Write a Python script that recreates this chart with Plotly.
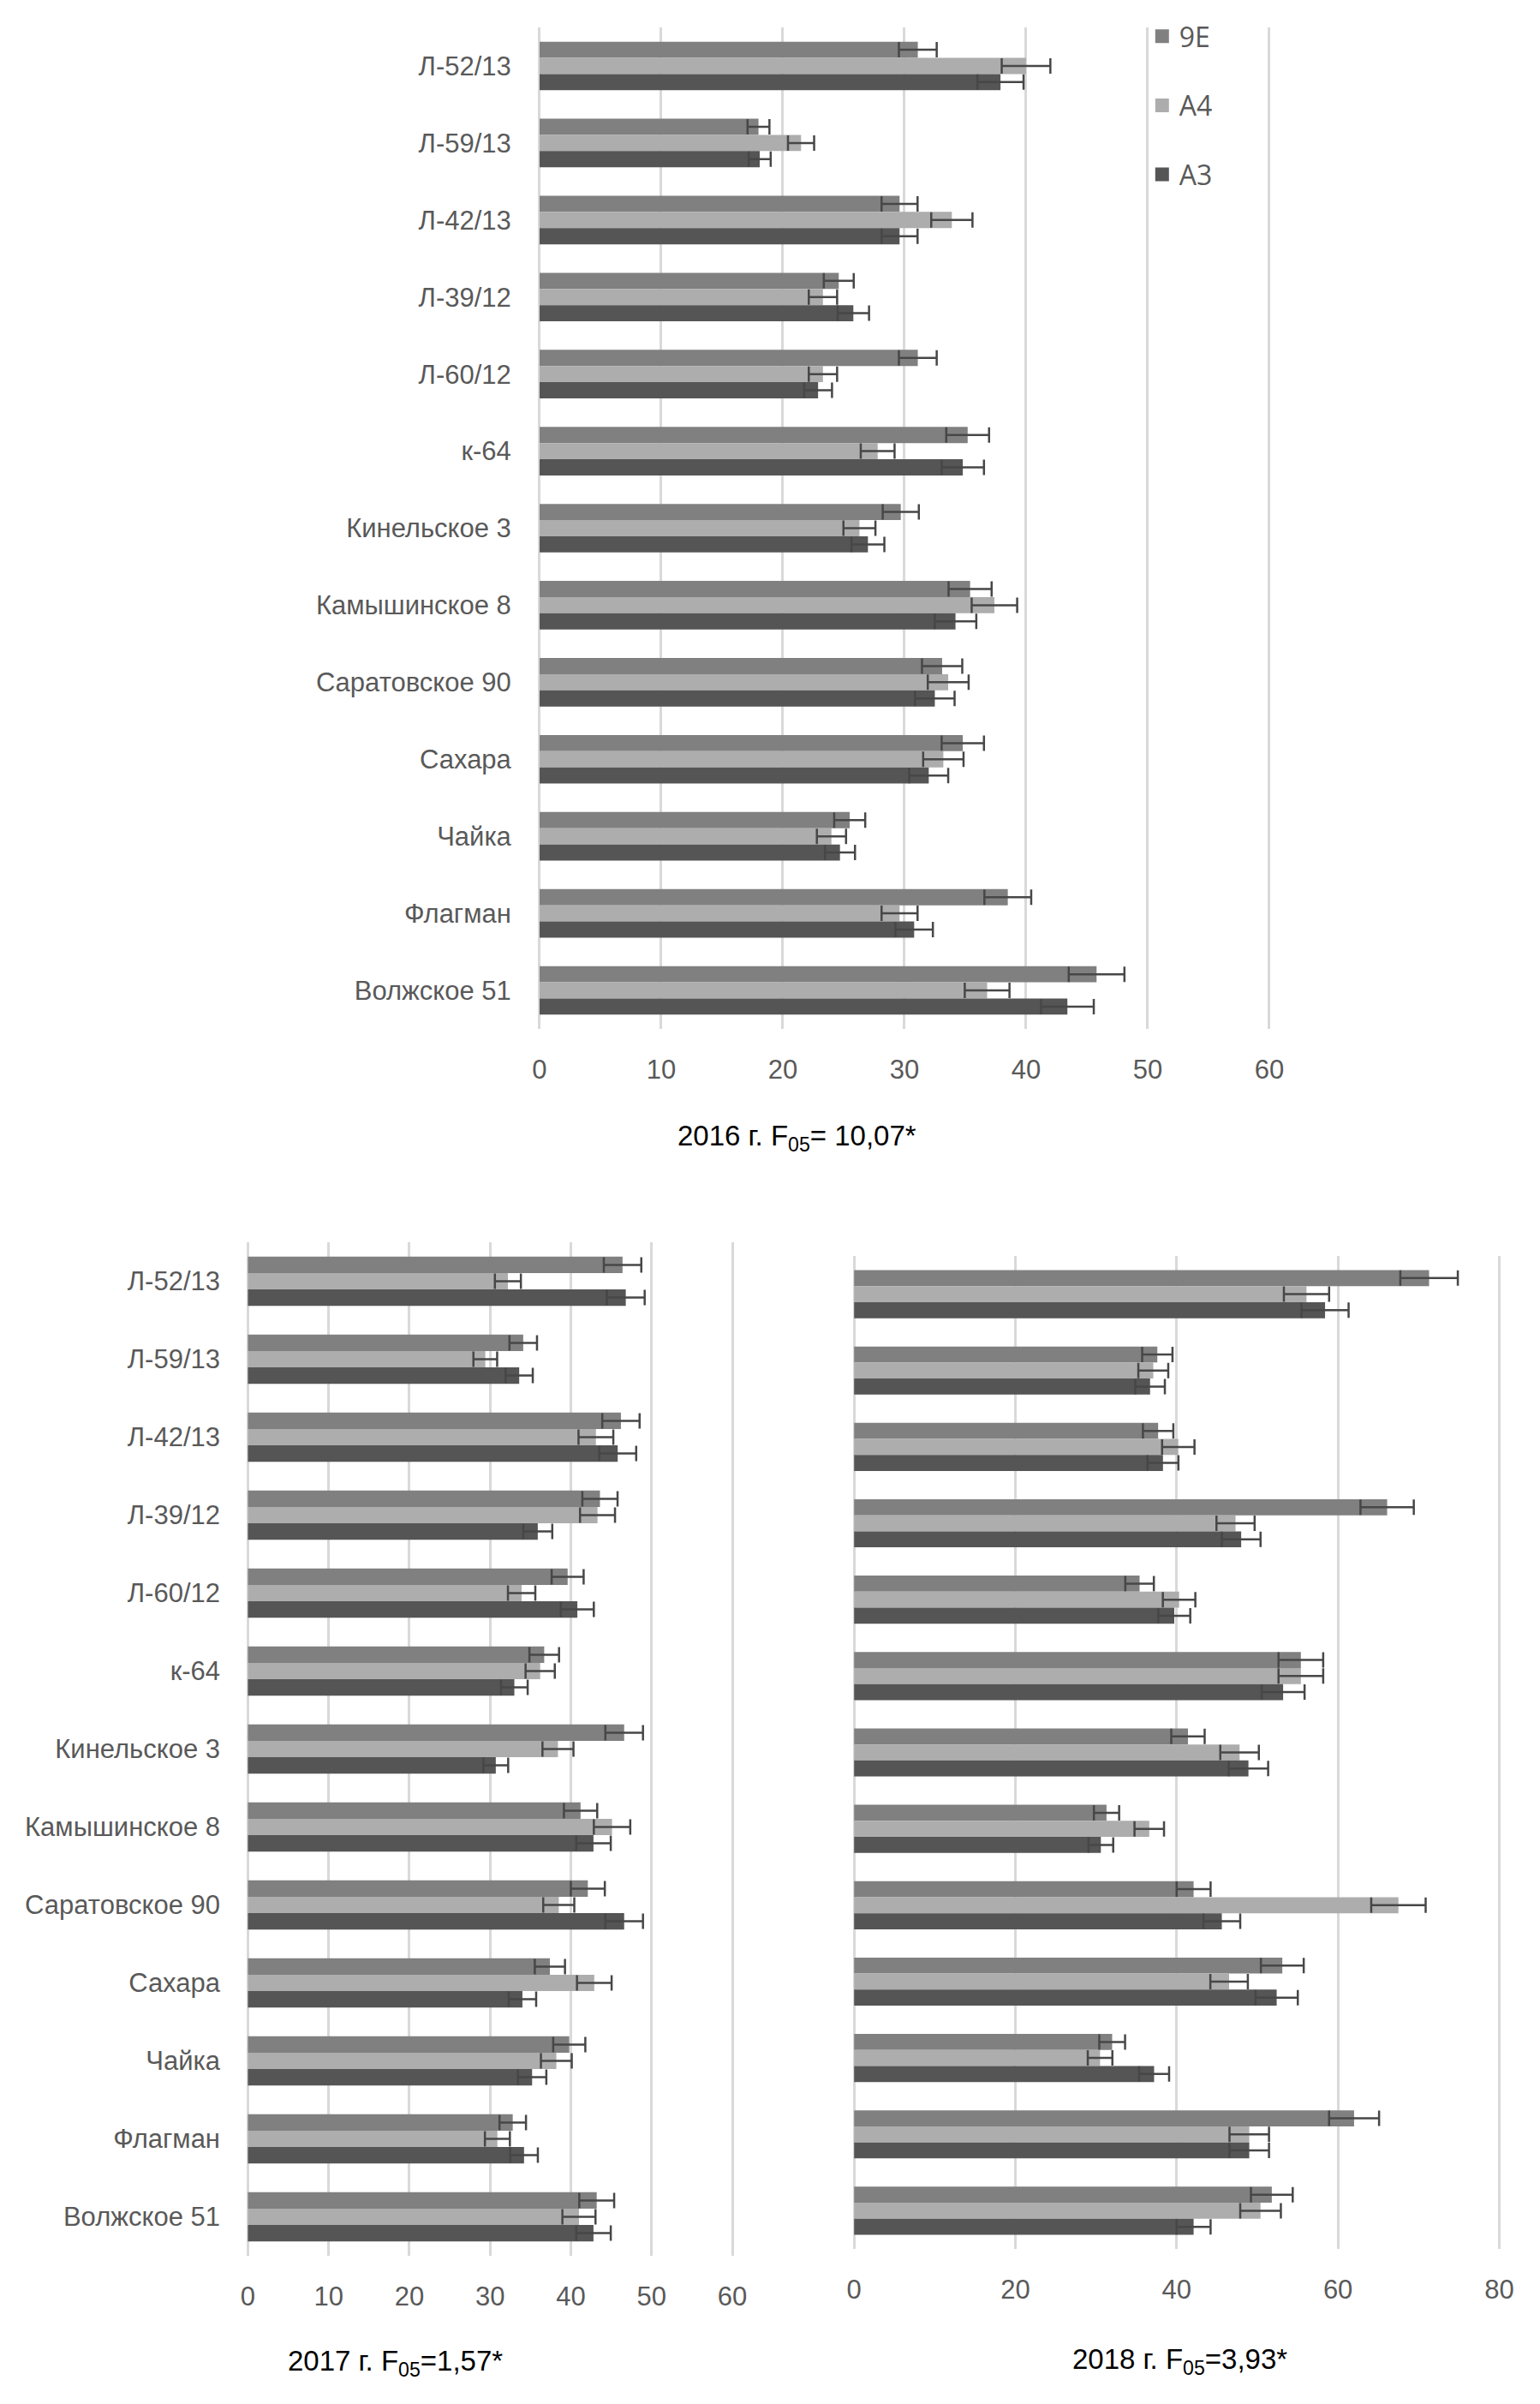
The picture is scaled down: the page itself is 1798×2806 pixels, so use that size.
import plotly.graph_objects as go

categories = ["Л-52/13", "Л-59/13", "Л-42/13", "Л-39/12", "Л-60/12", "к-64",
              "Кинельское 3", "Камышинское 8", "Саратовское 90", "Сахара",
              "Чайка", "Флагман", "Волжское 51"]
series_names = ["9E", "A4", "A3"]

e9_2016 = [31.1, 18.0, 29.6, 24.6, 31.1, 35.2, 29.7, 35.4, 33.1, 34.8, 25.5, 38.5, 45.8]
a4_2016 = [40.0, 21.5, 33.9, 23.3, 23.3, 27.8, 26.3, 37.4, 33.6, 33.2, 24.0, 29.6, 36.8]
a3_2016 = [37.9, 18.1, 29.6, 25.8, 22.9, 34.8, 27.0, 34.2, 32.5, 32.0, 24.7, 30.8, 43.4]

e9_2017 = [46.4, 34.1, 46.2, 43.6, 39.6, 36.7, 46.6, 41.2, 42.1, 37.4, 39.8, 32.8, 43.2]
a4_2017 = [32.2, 29.4, 43.1, 43.3, 33.9, 36.2, 38.4, 45.1, 38.5, 42.9, 38.2, 30.9, 41.0]
a3_2017 = [46.8, 33.6, 45.8, 35.9, 40.8, 33.0, 30.7, 42.8, 46.6, 34.0, 35.2, 34.2, 42.8]

e9_2018 = [71.3, 37.6, 37.7, 66.1, 35.4, 55.4, 41.4, 31.3, 42.1, 53.1, 32.0, 62.0, 51.8]
a4_2018 = [56.1, 37.1, 40.2, 47.3, 40.3, 55.4, 47.8, 36.6, 67.5, 46.5, 30.5, 49.0, 50.4]
a3_2018 = [58.4, 36.7, 38.3, 48.0, 39.7, 53.2, 48.9, 30.6, 45.6, 52.4, 37.2, 49.0, 42.1]

error_percent = 5

titles = ["2016 г. F<sub>05</sub>= 10,07*", "2017 г. F<sub>05</sub>=1,57*", "2018 г. F<sub>05</sub>=3,93*"]

colors = ["#808080", "#ADADAD", "#555555"]
OFF = 8                      # default page body margin
W, H = 1798 - OFF, 2806 - OFF
FONT = "Liberation Sans"
GRID = "#D9D9D9"
TXT = "#595959"

fig = go.Figure()

panels = [
    (("x", "y"), [e9_2016, a4_2016, a3_2016]),
    (("x2", "y2"), [e9_2017, a4_2017, a3_2017]),
    (("x3", "y3"), [e9_2018, a4_2018, a3_2018]),
]

for (xa, ya), vals in panels:
    for name, v, c in zip(series_names, vals, colors):
        fig.add_trace(go.Bar(
            y=categories, x=v, name=name, orientation="h",
            marker=dict(color=c, line=dict(width=0)),
            error_x=dict(type="percent", value=error_percent, color="#474747",
                         thickness=2.5, width=9),
            xaxis=xa, yaxis=ya, showlegend=False, legendgroup=name,
        ))

# legend entries (square swatches)
for name, c in zip(series_names, colors):
    fig.add_trace(go.Scatter(
        x=[None], y=[None], mode="markers", name=name, legendgroup=name,
        marker=dict(symbol="square", size=18, color=c), xaxis="x", yaxis="y",
        showlegend=True,
    ))


def fx(p):
    return (p - OFF) / W


def fy(p):
    return 1 - (p - OFF) / H


def xdomain(p0, p1, lo, hi, pad):
    k = (p1 - p0) / (hi - lo)
    return [fx(p0 - pad * k), fx(p1 + pad * k)], [lo - pad, hi + pad]


d1, r1 = xdomain(631, 1494, 0, 60, 0.15)
d2, r2 = xdomain(286, 859, 0, 60, 0.15)
d3, r3 = xdomain(1003, 1766, 0, 80, 0.2)

xcommon = dict(showgrid=True, gridcolor=GRID, gridwidth=3, zeroline=True,
               zerolinecolor=GRID, zerolinewidth=3, showline=False, ticks="",
               tickfont=dict(family=FONT, size=31, color=TXT), ticklabelstandoff=26,
               fixedrange=True)
ycommon = dict(showgrid=False, zeroline=False, showline=False, ticks="",
               autorange="reversed", type="category", fixedrange=True)

fig.update_layout(
    width=W, height=H, margin=dict(l=0, r=0, t=0, b=0),
    paper_bgcolor="white", plot_bgcolor="white",
    barmode="group", bargap=0.37, bargroupgap=0,
    xaxis=dict(domain=d1, range=r1, tickvals=[0, 10, 20, 30, 40, 50, 60], anchor="y", **xcommon),
    yaxis=dict(domain=[fy(1201), fy(32)], anchor="x",
               tickfont=dict(family=FONT, size=31, color=TXT), ticklabelstandoff=30, **ycommon),
    xaxis2=dict(domain=d2, range=r2, tickvals=[0, 10, 20, 30, 40, 50, 60], anchor="y2", **xcommon),
    yaxis2=dict(domain=[fy(2633), fy(1450)], anchor="x2",
                tickfont=dict(family=FONT, size=31, color=TXT), ticklabelstandoff=30, **ycommon),
    xaxis3=dict(domain=d3, range=r3, tickvals=[0, 20, 40, 60, 80], anchor="y3", **xcommon),
    yaxis3=dict(domain=[fy(2625), fy(1466)], anchor="x3", showticklabels=False, **ycommon),
    legend=dict(x=fx(1347), y=fy(15), xanchor="left", yanchor="top",
                bgcolor="rgba(0,0,0,0)", font=dict(family="Open Sans", size=32, color=TXT),
                tracegroupgap=36, itemwidth=30, traceorder="grouped"),
)

title_pos = [(935, 1328), (460, 2758), (1388, 2756)]
for t, (tx, ty) in zip(titles, title_pos):
    fig.add_annotation(text=t, x=fx(tx), y=fy(ty), xref="paper", yref="paper",
                       showarrow=False, xanchor="center", yanchor="middle",
                       font=dict(family=FONT, size=33, color="#000000"))

fig.write_html("out.html")
